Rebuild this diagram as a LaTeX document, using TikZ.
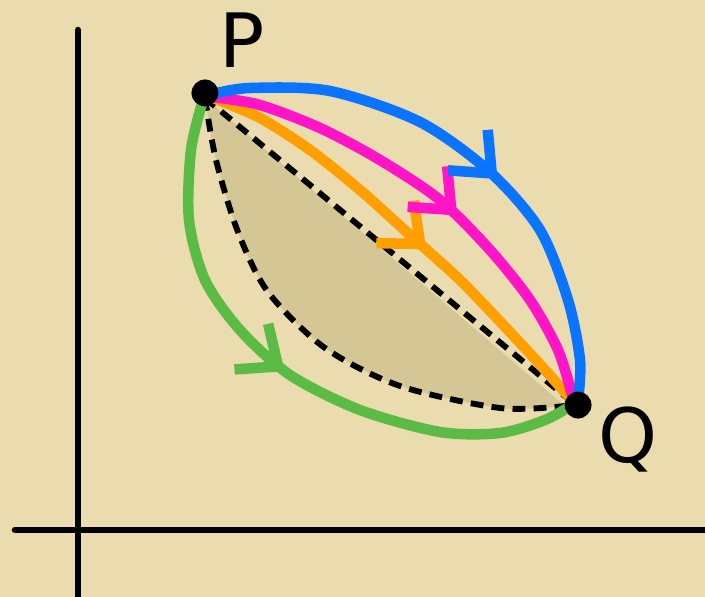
\documentclass[tikz,border=0pt]{standalone}
\usepackage{fontspec}
\setsansfont{DejaVu Sans}
\usetikzlibrary{arrows.meta, decorations.markings}
\definecolor{cpaper}{HTML}{EBDCAF}
\definecolor{cshade}{HTML}{D5C696}
\definecolor{cblue}{HTML}{0A74FF}
\definecolor{cpink}{HTML}{FF14C8}
\definecolor{corange}{HTML}{FFA000}
\definecolor{cgreen}{HTML}{5CBB45}
\tikzset{
  every picture/.style={x=0.03cm, y=-0.03cm, line cap=round, line join=round},
  axis/.style={draw=black, line width=5.5pt},
  route/.style={draw=#1, line width=9pt},
  midarrow/.style={postaction={decorate, decoration={markings,
      mark=at position #1 with {\arrow{Straight Barb[length=10mm, width=17mm, line width=9pt]}}}}},
  chord/.style={draw=black, line width=5pt, dash pattern=on 11pt off 7pt, line cap=butt},
  endpt/.style={circle, fill=black, inner sep=0pt, minimum size=0.8cm},
  lbl/.style={font=\sffamily\fontsize{64}{64}\selectfont},
}
\begin{document}
\begin{tikzpicture}
  \fill[cpaper] (0,0) rectangle (705,597);
  \useasboundingbox (0,0) rectangle (705,597);
  % axes
  \draw[axis] (78,30) -- (78,597);
  \draw[axis] (15,530) -- (705,530);
  % end points
  \node[endpt] (P) at (205,93) {};
  \node[endpt] (Q) at (578,405) {};
  \node[lbl] (pl) at (242,40) {P};
  \node[lbl] (ql) at (628,440) {Q};
  % shaded region
  \fill[cshade] plot[smooth] coordinates {(205,98) (216,160) (238,232) (268,292) (325,348) (400,386) (500,408) (565,406)}
    -- cycle;
  \draw[chord] (205,98) -- (572,402);
  \draw[chord] plot[smooth] coordinates {(205,98) (216,160) (238,232) (268,292) (325,348) (400,386) (500,408) (565,406)};
  % routes from P to Q
  \draw[route=cgreen, midarrow=0.5] plot[smooth] coordinates {(203,100) (191,150) (189,220) (205,280) (240,330) (290,375) (360,410) (440,432) (500,433) (545,420) (572,405)};
  \draw[route=corange, midarrow=0.56] plot[smooth] coordinates {(213,98) (260,118) (310,150) (360,190) (410,235) (460,280) (508,330) (545,370) (570,398)};
  \draw[route=cpink, midarrow=0.56] plot[smooth] coordinates {(213,97) (260,105) (320,128) (380,160) (440,200) (490,250) (530,300) (558,350) (572,395)};
  \draw[route=cblue, midarrow=0.56] plot[smooth] coordinates {(213,94) (250,88) (330,91) (420,122) (490,172) (540,230) (568,300) (580,360) (578,400)};
  \node[endpt] at (P) {};
  \node[endpt] at (Q) {};
\end{tikzpicture}
\end{document}
